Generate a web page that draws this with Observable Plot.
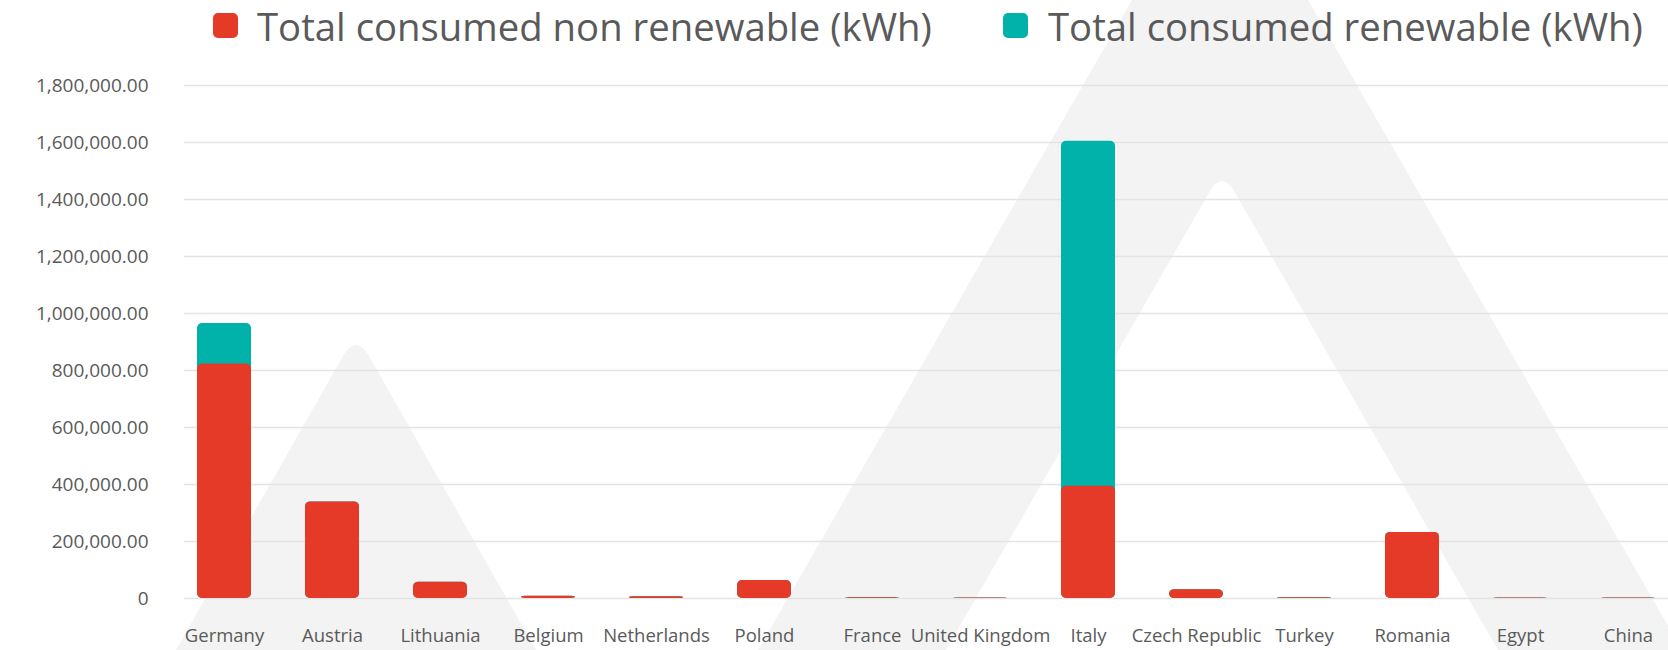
<!DOCTYPE html>
<html>
<head>
<meta charset="utf-8">
<script src="https://cdn.jsdelivr.net/npm/d3@7"></script>
<script src="https://cdn.jsdelivr.net/npm/@observablehq/plot@0.6"></script>
<style>
  html, body { margin: 0; padding: 0; background: #ffffff; }
  #wrap { position: relative; width: 1668px; height: 650px; overflow: hidden; font-family: "Open Sans", sans-serif; }
  #bg { position: absolute; left: 0; top: 0; }
  #legend { position: relative; height: 60px; }
  .sw { position: absolute; top: 13px; width: 25px; height: 25px; border-radius: 5px; }
  .lab { position: absolute; top: 0; font-size: 38.3px; line-height: 52px; color: #5a5a5a; white-space: nowrap; }
  #chart { position: relative; }
  #chart svg { background: transparent; }
</style>
</head>
<body>
<div id="wrap">
  <svg id="bg" width="1668" height="650">
    <path fill="#f3f3f3" d="M176,650 L342.4,357 Q356,333 369.6,357 L536,650 Z"/>
    <path fill="#f3f3f3" fill-rule="evenodd" d="M758,650 L1220,-153 L1682,650 Z M946,650 L1209.4,192 Q1222,170 1234.6,192 L1498,650 Z"/>
  </svg>
  <div id="legend"></div>
  <div id="chart"></div>
</div>
<script>
const countries = ["Germany", "Austria", "Lithuania", "Belgium", "Netherlands", "Poland", "France", "United Kingdom", "Italy", "Czech Republic", "Turkey", "Romania", "Egypt", "China"];
const nonRenewable = [823000, 339000, 57000, 8000, 6000, 63000, 3000, 1500, 394000, 31000, 2500, 232000, 2000, 2000];
const renewable = [142000, 0, 0, 0, 0, 0, 0, 0, 1210000, 0, 0, 0, 0, 0];
const seriesNames = ["Total consumed non renewable (kWh)", "Total consumed renewable (kWh)"];
const seriesColors = ["#e63a28", "#00b2a9"];
const yTicks = [0, 200000, 400000, 600000, 800000, 1000000, 1200000, 1400000, 1600000, 1800000];

const rows = countries.map((c, i) => ({country: c, non: nonRenewable[i], ren: renewable[i], total: nonRenewable[i] + renewable[i]}));

// Legend
const legend = document.getElementById("legend");
const legendPos = [[213, 257], [1003, 1048]];
seriesNames.forEach((name, i) => {
  const sw = document.createElement("div");
  sw.className = "sw";
  sw.style.left = legendPos[i][0] + "px";
  sw.style.background = seriesColors[i];
  legend.appendChild(sw);
  const lab = document.createElement("div");
  lab.className = "lab";
  lab.style.left = legendPos[i][1] + "px";
  lab.textContent = name;
  legend.appendChild(lab);
});

const fmt = d3.format(",.2f");
const chart = Plot.plot({
  width: 1668,
  height: 590,
  marginTop: 25,
  marginBottom: 52,
  marginLeft: 184,
  marginRight: 0,
  style: {fontFamily: "Open Sans", fontSize: "19px", color: "#5a5a5a", background: "transparent"},
  x: {type: "band", domain: countries, range: [170, 1682], paddingInner: 0.5, paddingOuter: 0.25, label: null},
  y: {domain: [0, 1800000], label: null},
  marks: [
    Plot.ruleY(yTicks, {stroke: "#e4e4e4", strokeWidth: 1.5}),
    Plot.barY(rows, {x: "country", y1: 0, y2: "total", fill: seriesColors[1], rx: 5}),
    Plot.barY(rows, {x: "country", y1: 0, y2: "non", fill: seriesColors[0], rx: 5}),
    Plot.axisY({ticks: yTicks, tickSize: 0, tickPadding: 36, tickFormat: d => d === 0 ? "0" : fmt(d), label: null, fontSize: 19}),
    Plot.axisX({tickSize: 0, tickPadding: 30, label: null, fontSize: 18.5})
  ]
});
document.getElementById("chart").appendChild(chart);
</script>
</body>
</html>
